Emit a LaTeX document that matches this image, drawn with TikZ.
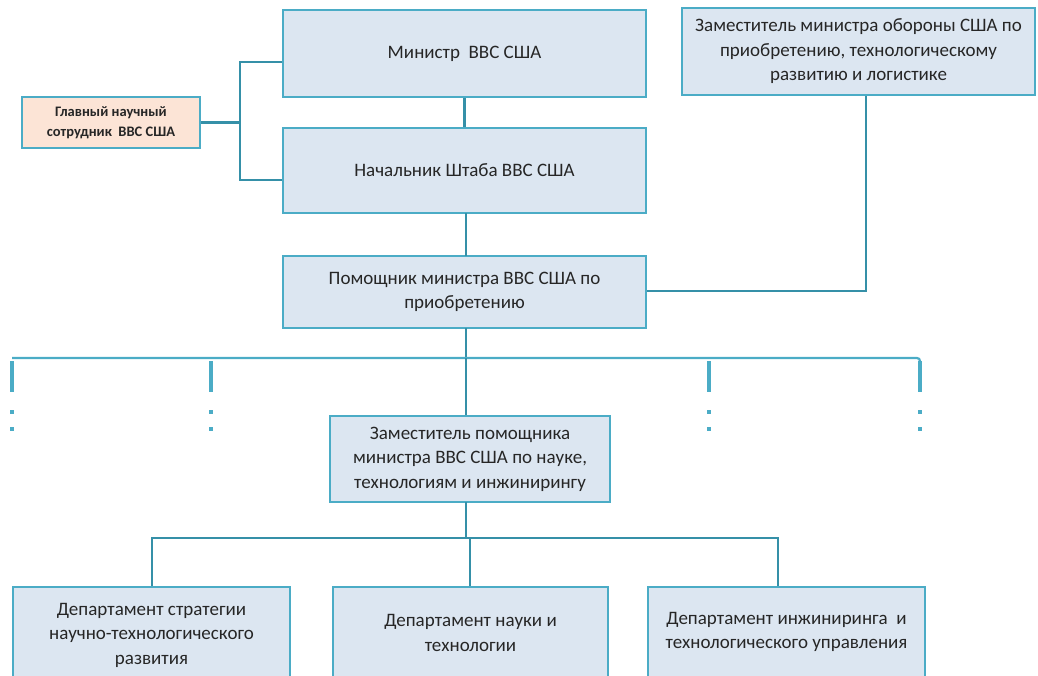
\documentclass[tikz,border=0pt]{standalone}
\usepackage{fontspec}
\setmainfont{Carlito}
\definecolor{lineC}{HTML}{3590A8}
\definecolor{borderC}{HTML}{4BACC6}
\definecolor{fillC}{HTML}{DCE6F1}
\definecolor{peachC}{HTML}{FCE4D6}
\definecolor{textC}{HTML}{262626}
\begin{document}
\begin{tikzpicture}[x=1pt,y=-1pt,
  box/.style={draw=borderC, line width=2.8pt, fill=fillC, align=center, inner sep=0pt,
    text=textC, font=\fontsize{19}{24.5}\selectfont},
  conn/.style={draw=lineC, line width=2.2pt},
  stub/.style={draw=borderC, line width=4pt},
  dotm/.style={fill=borderC, draw=none}]
\useasboundingbox (0,0) rectangle (1038,675);
\node[box, minimum width=363pt, minimum height=87pt] (min) at (464.5,53.5) {Министр\ \ ВВС США};
\node[box, minimum width=363pt, minimum height=85pt] (chief) at (464.5,170.5) {Начальник Штаба ВВС США};
\node[box, fill=peachC, minimum width=178pt, minimum height=51pt,
  font=\bfseries\fontsize{14.5}{20}\selectfont] (sci) at (111,122.5) {Главный научный\\сотрудник\ \ ВВС США};
\node[box, minimum width=353pt, minimum height=87pt] (dsd) at (858.5,51.5)
  {Заместитель министра обороны США по\\приобретению, технологическому\\развитию и логистике};
\node[box, minimum width=363pt, minimum height=72pt] (asst) at (464.5,292) {Помощник министра ВВС США по\\приобретению};
\node[box, minimum width=280pt, minimum height=86pt] (dep) at (470,459) {Заместитель помощника\\министра ВВС США по науке,\\технологиям и инжинирингу};
\node[box, minimum width=277pt, minimum height=96pt] (d1) at (151.5,635) {Департамент стратегии\\научно-технологического\\развития};
\node[box, minimum width=275pt, minimum height=92pt] (d2) at (470.5,633) {Департамент науки и\\технологии};
\node[box, minimum width=277pt, minimum height=90pt] (d3) at (786.5,632) {Департамент инжиниринга\ \ и\\технологического управления};
\draw[conn] (min.south) -- (chief.north);
\coordinate (jx) at (240,122.5);
\draw[conn] (sci.east) -- (jx);
\draw[conn] (min.west |- 0,62) -| (jx) |- (chief.west |- 0,180);
\draw[conn] (466,213) -- (466,256);
\draw[conn] (dsd.south -| 866,0) |- (asst.east |- 0,291);
\coordinate (hb) at (466,358);
\draw[conn] (466,328) -- (hb);
\coordinate (L1) at (12,358);
\coordinate (R1) at (920,362);
\draw[conn, draw=borderC, rounded corners=3pt] (L1) -- (920,358) -- (R1);
\draw[conn] (hb) -- (dep.north -| hb);
\foreach \x in {12,211,709,920}{
  \draw[stub] (\x,361) -- (\x,392);
  \fill[dotm] (\x-2,409.5) rectangle (\x+2,413.5);
  \fill[dotm] (\x-2,426.5) rectangle (\x+2,430.5);
}
\coordinate (hb2) at (466,538);
\draw[conn] (466,502) -- (hb2);
\draw[conn] (d1.north -| 152,0) -- (152,538) -- (778,538) -- (d3.north -| 778,0);
\draw[conn] (470,538) -- (d2.north -| 470,0);
\end{tikzpicture}
\end{document}
